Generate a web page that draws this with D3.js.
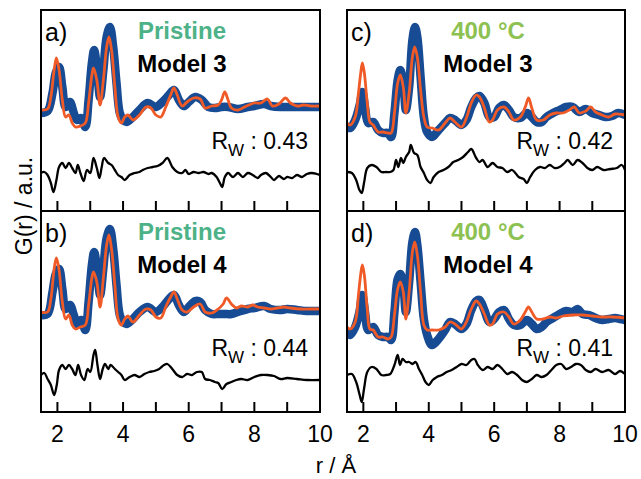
<!DOCTYPE html>
<html>
<head>
<meta charset="utf-8">
<script src="https://cdn.jsdelivr.net/npm/d3@7"></script>
<style>
  body { margin: 0; background: #fff; }
  svg { display: block; font-family: "Liberation Sans", Arial, sans-serif; }
</style>
</head>
<body>
<div id="chart-area"></div>
<script>
// PDF fits, G(r) in arbitrary units, r in Angstrom

// panel a) Pristine, Model 3
const obsA = [[1.5,-0.3],[1.7,-0.1],[1.85,1.7],[1.95,3.7],[2.05,4.3],[2.15,2.3],[2.25,0.3],[2.38,0.8],[2.5,-0.3],[2.6,-1.0],[2.72,-0.8],[2.85,-1.7],[2.95,1.0],[3.05,4.7],[3.12,6.0],[3.2,4.3],[3.3,1.3],[3.4,4.0],[3.5,7.3],[3.6,8.3],[3.7,6.3],[3.8,2.7],[3.9,-0.3],[4.0,-1.0],[4.1,-1.2],[4.3,-0.7],[4.5,0],[4.75,0.7],[5.0,0.3],[5.2,0.8],[5.4,1.5],[5.55,2.0],[5.7,1.0],[5.85,0.4],[6.0,0.8],[6.2,1.3],[6.4,1.0],[6.6,0.3],[6.8,0.2],[7.0,0.3],[7.2,0.3],[7.5,0.1],[7.8,0.3],[8.0,0.4],[8.3,0.6],[8.5,0.4],[8.8,0.3],[9.0,0.3],[9.3,0.3],[9.6,0.3],[10,0.3]];
const fitA = [[1.5,0],[1.7,0.1],[1.8,1.3],[1.9,4.0],[1.97,5.2],[2.05,4.0],[2.15,1.0],[2.25,-0.7],[2.35,-0.5],[2.45,-1.3],[2.55,-1.7],[2.7,-1.6],[2.85,-1.3],[2.95,0.7],[3.05,3.5],[3.1,4.2],[3.2,3.0],[3.3,0.5],[3.4,3.0],[3.5,6.3],[3.57,7.3],[3.65,6.0],[3.75,2.3],[3.85,-0.7],[3.95,-1.3],[4.05,-0.7],[4.15,-0.5],[4.3,-1.0],[4.5,-0.5],[4.7,0.3],[4.85,0.2],[5.0,-0.5],[5.15,-0.7],[5.3,0.3],[5.45,1.5],[5.55,2.2],[5.65,1.5],[5.8,0.4],[5.95,0.8],[6.15,1.2],[6.35,1.1],[6.5,0.2],[6.7,0.4],[6.9,0.5],[7.0,1.0],[7.1,1.8],[7.2,1.0],[7.3,0.2],[7.5,0],[7.7,0.3],[8.0,0.7],[8.2,0.7],[8.4,1.1],[8.55,0.4],[8.75,0.6],[8.95,1.2],[9.1,0.7],[9.3,0.4],[9.5,0.5],[9.7,0.4],[10,0.4]];
const diffA = [[1.5,-6.3],[1.6,-6.2],[1.7,-6.5],[1.8,-7.3],[1.88,-8.2],[1.97,-7.0],[2.05,-5.7],[2.15,-5.3],[2.25,-5.8],[2.35,-5.3],[2.45,-5.8],[2.55,-6.3],[2.62,-5.5],[2.7,-6.3],[2.8,-7.1],[2.9,-6.0],[3.0,-6.3],[3.1,-4.8],[3.2,-5.8],[3.28,-6.8],[3.35,-5.7],[3.42,-4.8],[3.55,-5.3],[3.65,-5.5],[3.75,-6.0],[3.85,-6.5],[3.95,-6.7],[4.05,-7.0],[4.2,-6.5],[4.35,-6.3],[4.5,-6.2],[4.6,-6.0],[4.75,-5.8],[4.9,-5.7],[5.05,-5.6],[5.2,-5.3],[5.35,-4.8],[5.5,-5.7],[5.65,-6.2],[5.8,-6.3],[5.9,-6.0],[6.0,-6.4],[6.15,-6.2],[6.3,-6.3],[6.45,-6.2],[6.6,-6.4],[6.7,-6.3],[6.85,-6.7],[6.95,-7.3],[7.02,-7.7],[7.1,-6.7],[7.2,-6.3],[7.35,-6.7],[7.5,-6.3],[7.65,-6.7],[7.8,-6.3],[7.95,-6.5],[8.1,-6.8],[8.2,-6.5],[8.35,-6.3],[8.5,-6.7],[8.6,-7.0],[8.75,-6.6],[8.9,-6.9],[9.0,-6.7],[9.15,-6.8],[9.3,-6.5],[9.45,-6.7],[9.6,-6.4],[9.75,-6.3],[9.9,-6.4],[10,-6.5]];

// panel b) Pristine, Model 4
const obsB = [[1.5,-0.4],[1.7,-0.3],[1.85,1.9],[1.95,3.7],[2.05,4.2],[2.15,2.2],[2.25,0.2],[2.38,0.6],[2.5,-0.4],[2.6,-1.3],[2.72,-0.9],[2.85,-1.9],[2.95,0.9],[3.05,4.6],[3.12,5.9],[3.2,4.4],[3.3,1.6],[3.4,4.3],[3.5,7.3],[3.6,8.2],[3.7,6.2],[3.8,2.6],[3.9,-0.4],[4.0,-1.1],[4.1,-1.3],[4.3,-0.8],[4.5,-0.1],[4.75,0.4],[5.0,-0.1],[5.2,0.4],[5.4,1.2],[5.55,1.6],[5.7,0.6],[5.85,-0.1],[6.0,0.4],[6.2,1.0],[6.35,0.9],[6.5,0.1],[6.7,-0.3],[6.9,-0.3],[7.1,-0.3],[7.3,-0.3],[7.5,-0.1],[7.8,0.2],[8.0,0.3],[8.3,0.5],[8.5,0.2],[8.8,0.1],[9.0,0.2],[9.3,0.1],[9.6,0],[10,0]];
const fitB = [[1.5,-0.1],[1.7,-0.1],[1.8,1.2],[1.9,4.2],[1.97,5.3],[2.05,4.1],[2.15,0.9],[2.25,-0.8],[2.35,-0.4],[2.45,-1.4],[2.55,-1.8],[2.7,-1.6],[2.85,-1.4],[2.95,0.6],[3.05,3.3],[3.1,3.9],[3.2,2.9],[3.3,0.4],[3.4,3.3],[3.5,6.6],[3.57,7.6],[3.65,6.2],[3.75,2.6],[3.85,-0.8],[3.95,-1.4],[4.05,-0.8],[4.15,-0.5],[4.3,-1.1],[4.5,-0.4],[4.7,0.2],[4.85,0.1],[5.0,-0.6],[5.15,-0.7],[5.3,0.4],[5.45,1.4],[5.55,1.9],[5.65,1.2],[5.8,0.1],[5.95,-0.1],[6.15,0.4],[6.35,0.7],[6.5,-0.1],[6.7,-0.2],[6.9,0.2],[7.05,0.7],[7.15,1.3],[7.3,0.7],[7.45,0.3],[7.6,0.5],[7.8,0.4],[7.95,0.6],[8.1,0.4],[8.3,0.3],[8.5,0.2],[8.7,0.3],[8.9,0.4],[9.1,0.3],[9.4,0.2],[9.7,0.2],[10,0.2]];
const diffB = [[1.5,-6.4],[1.6,-6.2],[1.7,-6.8],[1.8,-7.4],[1.9,-8.4],[1.98,-7.4],[2.05,-5.9],[2.15,-5.4],[2.25,-5.8],[2.35,-5.4],[2.45,-5.8],[2.55,-6.4],[2.63,-5.4],[2.72,-6.4],[2.82,-6.9],[2.92,-5.8],[3.0,-6.1],[3.1,-4.4],[3.15,-3.9],[3.22,-5.4],[3.3,-6.8],[3.38,-5.8],[3.45,-5.3],[3.55,-5.8],[3.62,-5.4],[3.75,-5.8],[3.85,-6.1],[3.95,-6.4],[4.05,-6.9],[4.2,-6.6],[4.35,-6.4],[4.5,-6.6],[4.65,-6.3],[4.8,-6.1],[4.95,-6.0],[5.1,-5.8],[5.25,-5.4],[5.35,-5.3],[5.5,-5.8],[5.65,-6.4],[5.8,-6.6],[5.95,-6.3],[6.1,-6.4],[6.25,-6.1],[6.4,-6.1],[6.5,-6.8],[6.65,-6.9],[6.8,-7.1],[6.9,-7.2],[7.02,-7.8],[7.15,-7.3],[7.3,-7.1],[7.45,-6.9],[7.6,-6.8],[7.8,-6.9],[8.0,-6.6],[8.2,-6.4],[8.4,-6.4],[8.6,-6.5],[8.8,-6.8],[9.0,-6.7],[9.3,-6.8],[9.6,-6.9],[10,-6.9]];

// panel c) 400 C, Model 3
const obsC = [[1.5,-1.7],[1.6,-1.8],[1.75,-1.0],[1.9,0.7],[1.97,1.8],[2.05,0.3],[2.15,-1.3],[2.3,-1.2],[2.45,-2.0],[2.6,-2.3],[2.75,-2.3],[2.85,-2.7],[2.95,-0.3],[3.05,3.0],[3.13,4.0],[3.22,2.8],[3.3,0],[3.4,2.3],[3.5,7.0],[3.58,8.3],[3.65,7.3],[3.75,3.3],[3.85,-0.7],[3.95,-2.2],[4.1,-2.7],[4.3,-2.0],[4.5,-1.3],[4.65,-0.8],[4.8,-1.0],[5.0,-1.5],[5.15,-1.0],[5.3,0.3],[5.45,1.2],[5.55,1.4],[5.7,0.7],[5.85,-0.7],[6.0,-0.7],[6.15,0.2],[6.3,0.5],[6.45,0],[6.6,-0.7],[6.8,-0.8],[7.0,-0.3],[7.15,-0.7],[7.3,-1.2],[7.45,-1.2],[7.6,-0.7],[7.8,-0.3],[8.0,0],[8.2,0.3],[8.4,0.3],[8.6,-0.2],[8.8,0.1],[9.0,-0.3],[9.2,-0.5],[9.4,-0.7],[9.6,-0.6],[9.8,-0.3],[10,-0.5]];
const fitC = [[1.5,-1.3],[1.6,-1.5],[1.75,-0.7],[1.85,1.7],[1.92,3.7],[1.97,4.7],[2.03,3.7],[2.12,0.7],[2.2,-1.2],[2.3,-1.5],[2.45,-2.2],[2.6,-2.2],[2.75,-2.3],[2.85,-2.3],[2.95,-0.3],[3.05,2.7],[3.13,3.5],[3.22,2.3],[3.3,-0.3],[3.4,1.7],[3.5,5.3],[3.57,6.3],[3.65,5.3],[3.75,2.0],[3.85,-0.7],[3.95,-1.7],[4.1,-1.8],[4.3,-2.0],[4.5,-1.3],[4.65,-0.8],[4.8,-1.2],[5.0,-1.7],[5.15,-0.8],[5.3,0.7],[5.45,1.5],[5.55,1.3],[5.7,0.2],[5.85,-1.2],[5.95,-1.0],[6.1,0],[6.3,0.3],[6.45,-0.2],[6.6,-1.0],[6.8,-0.7],[6.95,0.3],[7.05,1.2],[7.15,0.2],[7.3,-1.0],[7.5,-1.0],[7.7,-0.5],[7.9,-0.3],[8.1,-0.3],[8.3,0],[8.45,0.3],[8.6,-0.3],[8.8,-0.1],[8.95,0.3],[9.1,-0.2],[9.3,-0.5],[9.5,-0.7],[9.7,-0.4],[10,-0.5]];
const diffC = [[1.5,-6.2],[1.65,-6.3],[1.78,-7.0],[1.88,-8.0],[1.95,-8.3],[2.02,-7.3],[2.12,-5.8],[2.25,-5.5],[2.4,-5.7],[2.55,-6.2],[2.7,-6.2],[2.82,-6.2],[2.92,-6.0],[3.0,-5.0],[3.07,-5.7],[3.15,-4.8],[3.22,-5.3],[3.3,-4.7],[3.4,-4.2],[3.45,-3.5],[3.55,-4.3],[3.65,-4.5],[3.75,-5.7],[3.85,-6.3],[3.95,-7.0],[4.05,-7.3],[4.15,-6.7],[4.3,-6.2],[4.45,-6.0],[4.6,-5.7],[4.75,-5.2],[4.9,-5.0],[5.05,-4.7],[5.2,-4.2],[5.3,-3.9],[5.45,-4.8],[5.55,-5.2],[5.65,-5.0],[5.8,-5.7],[5.95,-5.3],[6.1,-5.7],[6.25,-5.8],[6.4,-6.2],[6.55,-6.0],[6.75,-6.7],[6.9,-6.9],[7.0,-7.3],[7.1,-6.7],[7.25,-6.0],[7.4,-5.7],[7.55,-5.8],[7.7,-5.5],[7.85,-5.8],[8.0,-5.7],[8.15,-5.3],[8.25,-5.0],[8.4,-5.5],[8.55,-5.0],[8.7,-5.3],[8.85,-5.8],[9.0,-6.0],[9.15,-5.7],[9.35,-6.0],[9.55,-5.9],[9.75,-5.8],[9.9,-5.5],[10,-6.0]];

// panel d) 400 C, Model 4
const obsD = [[1.5,-2.1],[1.6,-2.4],[1.75,-1.6],[1.88,-0.1],[1.97,1.6],[2.05,-0.1],[2.15,-1.9],[2.3,-1.6],[2.45,-2.4],[2.6,-2.6],[2.75,-2.6],[2.85,-2.9],[2.95,-0.1],[3.05,3.2],[3.13,3.7],[3.22,2.6],[3.3,-0.1],[3.4,2.9],[3.5,6.9],[3.58,7.9],[3.65,6.6],[3.75,2.9],[3.85,-0.8],[3.95,-2.4],[4.1,-3.4],[4.3,-2.8],[4.5,-1.9],[4.65,-1.1],[4.8,-1.3],[5.0,-1.8],[5.15,-1.3],[5.3,0.1],[5.45,1.0],[5.55,1.1],[5.7,0.1],[5.85,-1.1],[6.0,-0.8],[6.15,-0.1],[6.3,0.1],[6.45,-0.8],[6.6,-1.4],[6.8,-1.4],[7.0,-0.9],[7.15,-1.3],[7.3,-1.8],[7.45,-1.6],[7.6,-1.1],[7.8,-0.7],[8.0,-0.3],[8.2,0],[8.4,-0.1],[8.55,0.2],[8.7,-0.3],[8.9,-0.4],[9.1,-0.7],[9.3,-0.9],[9.5,-0.8],[9.7,-0.7],[9.85,-0.8],[10,-0.9]];
const fitD = [[1.5,-1.6],[1.6,-1.8],[1.75,-1.1],[1.85,1.6],[1.92,3.7],[1.97,4.6],[2.03,3.6],[2.12,0.2],[2.2,-1.8],[2.3,-1.9],[2.45,-2.6],[2.6,-2.6],[2.75,-2.8],[2.85,-2.6],[2.95,-0.4],[3.05,2.2],[3.13,2.9],[3.22,1.9],[3.3,-0.8],[3.4,1.9],[3.5,5.9],[3.57,6.9],[3.65,5.6],[3.75,1.9],[3.85,-1.4],[3.95,-1.9],[4.1,-1.9],[4.3,-1.9],[4.5,-1.6],[4.65,-1.1],[4.8,-1.3],[5.0,-1.8],[5.15,-1.1],[5.3,0.2],[5.45,1.0],[5.55,0.7],[5.7,-0.3],[5.85,-1.4],[5.95,-1.3],[6.1,-0.3],[6.3,-0.1],[6.45,-0.6],[6.6,-1.3],[6.8,-0.9],[6.95,-0.1],[7.05,0.4],[7.15,-0.1],[7.3,-0.8],[7.5,-0.8],[7.7,-0.6],[7.9,-0.7],[8.1,-0.5],[8.4,-0.4],[8.7,-0.4],[9.0,-0.5],[9.3,-0.6],[9.6,-0.6],[10,-0.7]];
const diffD = [[1.5,-6.4],[1.65,-6.3],[1.78,-7.1],[1.88,-8.3],[1.95,-9.1],[2.02,-7.8],[2.12,-6.1],[2.25,-5.6],[2.4,-5.8],[2.55,-6.4],[2.7,-6.4],[2.82,-6.3],[2.95,-5.4],[3.05,-4.4],[3.12,-5.4],[3.2,-4.8],[3.3,-5.1],[3.4,-5.1],[3.5,-5.3],[3.6,-5.1],[3.7,-5.8],[3.8,-6.4],[3.9,-7.1],[4.0,-7.4],[4.12,-6.9],[4.25,-6.6],[4.4,-6.4],[4.55,-6.1],[4.7,-5.9],[4.85,-5.6],[5.0,-5.3],[5.15,-5.4],[5.3,-4.9],[5.4,-4.8],[5.5,-5.4],[5.65,-5.9],[5.8,-5.6],[5.95,-5.8],[6.1,-5.4],[6.25,-5.8],[6.4,-6.3],[6.55,-6.1],[6.7,-6.4],[6.85,-6.9],[7.0,-7.1],[7.15,-6.8],[7.3,-6.4],[7.45,-6.6],[7.6,-6.4],[7.75,-5.9],[7.9,-5.4],[8.05,-5.3],[8.2,-5.8],[8.35,-5.6],[8.5,-5.3],[8.65,-5.4],[8.8,-5.9],[8.95,-6.1],[9.1,-5.8],[9.3,-6.1],[9.5,-5.9],[9.7,-6.3],[9.85,-6.0],[10,-6.3]];

const panelLetters = ["a)", "b)", "c)", "d)"]
const samples = ["Pristine", "Pristine", "400 \u00b0C", "400 \u00b0C"]
const models = ["Model 3", "Model 4", "Model 3", "Model 4"]
const rwValues = ["0.43", "0.44", "0.42", "0.41"]
const obsSets = [obsA, obsB, obsC, obsD]
const fitSets = [fitA, fitB, fitC, fitD]
const diffSets = [diffA, diffB, diffC, diffD]

const rTicks = [2, 3, 4, 5, 6, 7, 8, 9, 10]
const rLabels = [2, 4, 6, 8, 10]

// layout
const width = 641, height = 479
const cols = [[41, 320], [347, 625]]
const rows = [[10, 211], [211, 412]]
const sampleColor = { "Pristine": "#4db287", "400 \u00b0C": "#8dc152" }

const svg = d3.select("#chart-area").append("svg")
    .attr("width", width)
    .attr("height", height)

const defs = svg.append("defs")

for (let i = 0; i < 4; i++) {
  const col = i < 2 ? 0 : 1
  const row = i % 2
  const [x0, x1] = cols[col]
  const [y0, y1] = rows[row]

  const x = d3.scaleLinear().domain([1.5, 10]).range([x0, x1])
  const y = d3.scaleLinear().domain([-10.1, 10]).range([y1, y0])

  defs.append("clipPath").attr("id", "clip" + i)
    .append("rect")
      .attr("x", x0).attr("y", y0)
      .attr("width", x1 - x0).attr("height", y1 - y0)

  const line = d3.line()
      .x(d => x(d[0]))
      .y(d => y(d[1]))
      .curve(d3.curveCatmullRom.alpha(0.5))

  const g = svg.append("g").attr("clip-path", "url(#clip" + i + ")")

  // observed data, thick blue
  g.append("path")
      .attr("d", line(obsSets[i]))
      .attr("fill", "none")
      .attr("stroke", "#174b93")
      .attr("stroke-width", 8.5)
      .attr("stroke-linejoin", "round")
      .attr("stroke-linecap", "round")

  // fit
  g.append("path")
      .attr("d", line(fitSets[i]))
      .attr("fill", "none")
      .attr("stroke", "#f05a26")
      .attr("stroke-width", 2.8)
      .attr("stroke-linejoin", "round")

  // difference
  g.append("path")
      .attr("d", line(diffSets[i]))
      .attr("fill", "none")
      .attr("stroke", "#000")
      .attr("stroke-width", 2.3)
      .attr("stroke-linejoin", "round")

  // inward ticks
  svg.append("g")
    .selectAll("line")
    .data(rTicks)
    .join("line")
      .attr("x1", d => x(d)).attr("x2", d => x(d))
      .attr("y1", y1).attr("y2", y1 - 10)
      .attr("stroke", "#000")
      .attr("stroke-width", 2)

  // frame
  svg.append("rect")
      .attr("x", x0).attr("y", y0)
      .attr("width", x1 - x0).attr("height", y1 - y0)
      .attr("fill", "none")
      .attr("stroke", "#000")
      .attr("stroke-width", 2)

  if (row == 1) {
    svg.append("g")
      .selectAll("text")
      .data(rLabels)
      .join("text")
        .attr("x", d => x(d))
        .attr("y", 442)
        .attr("text-anchor", "middle")
        .attr("font-size", 23)
        .text(d => d)
  }

  // labels
  svg.append("text")
      .attr("x", x0 + 4).attr("y", y0 + 31)
      .attr("font-size", 25)
      .text(panelLetters[i])

  const cx = x0 + 141
  svg.append("text")
      .attr("x", cx).attr("y", y0 + 29)
      .attr("text-anchor", "middle")
      .attr("font-size", 24)
      .attr("font-weight", "bold")
      .attr("fill", sampleColor[samples[i]])
      .text(samples[i])

  svg.append("text")
      .attr("x", cx).attr("y", y0 + 62)
      .attr("text-anchor", "middle")
      .attr("font-size", 24)
      .attr("font-weight", "bold")
      .text(models[i])

  const rw = svg.append("text")
      .attr("x", x1 - 12).attr("y", y0 + (row == 0 ? 139 : 145))
      .attr("text-anchor", "end")
      .attr("font-size", 23)
  rw.append("tspan").text("R")
  rw.append("tspan").attr("font-size", 17).attr("dy", 7).text("W")
  rw.append("tspan").attr("dy", -7).text(" : " + rwValues[i])
}

// axis titles
svg.append("text")
    .attr("x", 336).attr("y", 473)
    .attr("text-anchor", "middle")
    .attr("font-size", 22)
    .text("r / \u00c5")

svg.append("text")
    .attr("transform", "translate(32,206) rotate(-90)")
    .attr("text-anchor", "middle")
    .attr("font-size", 23)
    .text("G(r) / a.u.")
</script>
</body>
</html>
